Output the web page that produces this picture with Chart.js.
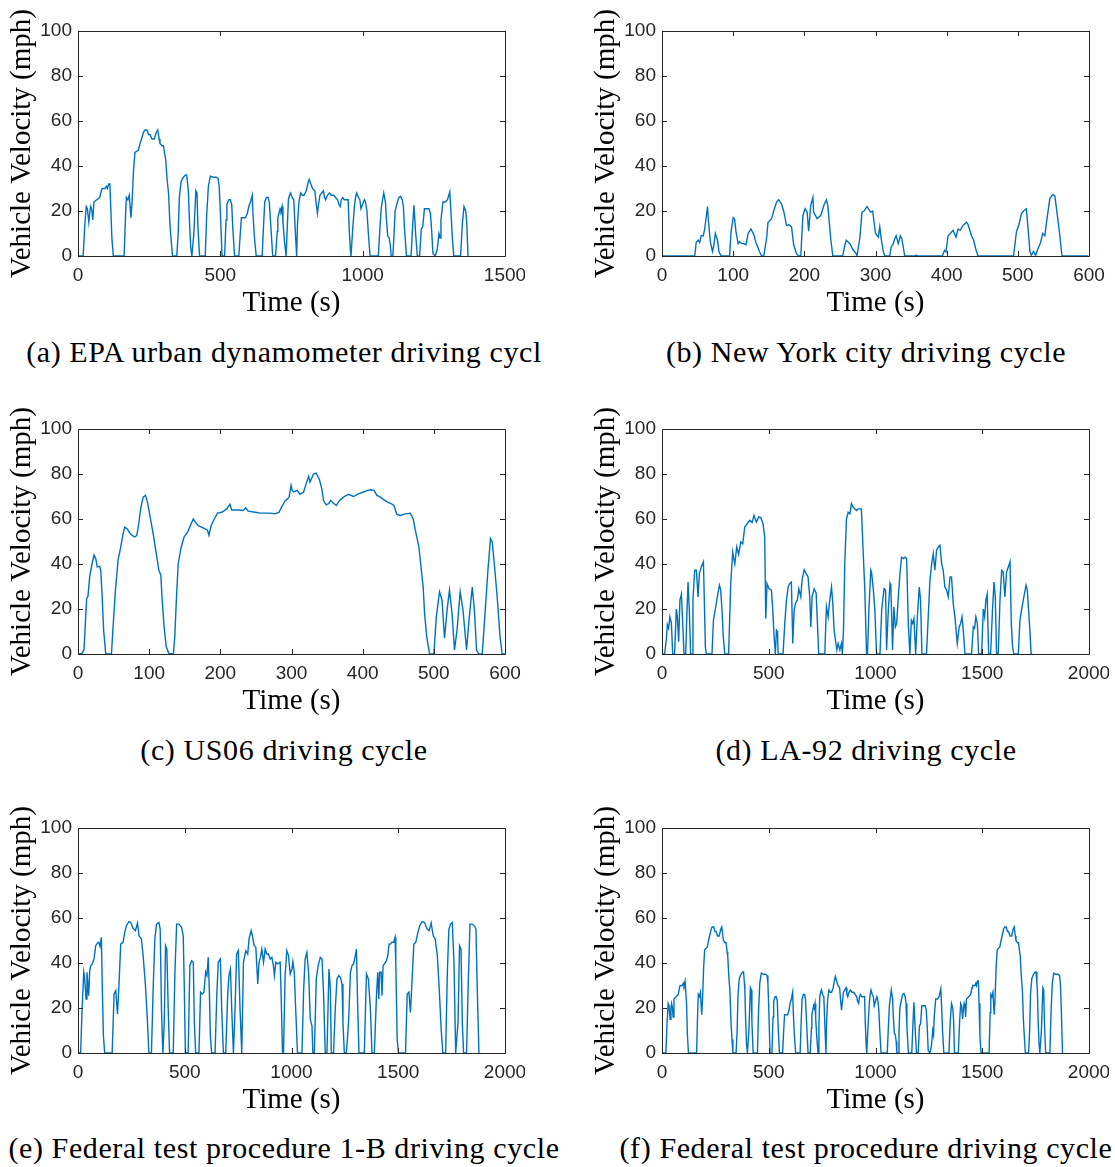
<!DOCTYPE html>
<html>
<head>
<meta charset="utf-8">
<script src="https://cdn.jsdelivr.net/npm/chart.js@4.4.1/dist/chart.umd.min.js"></script>
<style>
  body { margin: 0; background: #fff; width: 1115px; height: 1167px; position: relative; overflow: hidden; }
  canvas { position: absolute; }
  .cap { position: absolute; font-family: "Liberation Serif", serif; font-size: 30px; letter-spacing: 0.6px; color: #000; text-align: center; line-height: 34px; white-space: nowrap; }
</style>
</head>
<body>
<script>
// --- DATOS: [tiempo (s), velocidad (mph)] ---
const uddsPts = [[0,0],[18,0],[24,14],[29,22],[33,21],[38,15],[42,20],[45,22],[49,20],[52,16],[56,24],[66,25],[76,26],[82,29],[85,30],[95,30],[100,31],[103,30],[108,32],[112,32],[115,22],[119,8],[124,0],[162,0],[167,18],[170,26],[175,25],[180,27],[183,22],[186,17],[190,24],[195,38],[200,46],[212,47],[218,50],[223,52],[230,55],[235,56],[242,56],[248,54],[253,54],[260,52],[268,52],[275,55],[280,56],[285,52],[288,50],[295,49],[300,49],[305,45],[308,43],[313,34],[318,28],[323,14],[328,6],[332,0],[347,0],[352,10],[356,26],[362,33],[370,35],[378,36],[382,36],[386,31],[388,28],[392,14],[396,4],[400,0],[407,10],[414,29],[418,28],[421,14],[427,0],[447,0],[452,18],[458,31],[465,35.5],[475,35],[485,35],[492,34.5],[496,31],[500,20],[506,0],[515,0],[520,16],[523,23],[530,25],[535,25],[540,23],[544,12],[550,0],[565,0],[570,10],[574,17],[580,17],[588,17],[595,19],[600,22],[606,24],[612,27],[615,18],[620,8],[626,0],[647,0],[652,14],[656,24],[662,26],[668,26],[672,24],[677,14],[684,0],[694,0],[700,11],[702,17],[706,19],[710,21],[713,20],[717,22],[720,15],[725,7],[731,0],[735,12],[739,25],[743,27],[747,28],[752,26],[758,25],[763,12],[768,0],[771,14],[776,24],[782,28],[788,27],[794,27],[802,29],[807,32],[812,34],[818,32],[824,30],[832,29],[836,24],[841,19],[845,23],[850,27],[856,28],[862,29],[866,26],[870,25],[876,27],[883,28],[890,27],[898,27],[905,26],[912,25],[916,23],[921,22],[925,25],[930,26],[935,25],[941,25],[949,25],[952,14],[956,4],[959,0],[965,12],[971,22],[975,26],[979,28],[985,26],[990,25],[994,21],[1000,23],[1006,25],[1010,24],[1015,20],[1020,10],[1026,0],[1055,0],[1060,11],[1065,21],[1070,25],[1074,28],[1080,24],[1083,17],[1088,9],[1093,8],[1097,5],[1100,0],[1106,0],[1110,9],[1114,20],[1120,23],[1127,26],[1133,26.5],[1139,25],[1143,22],[1147,12],[1154,0],[1170,0],[1175,12],[1180,22.5],[1183,17],[1186,10],[1192,0],[1200,0],[1206,12],[1211,13],[1217,21],[1225,21],[1233,21],[1238,19],[1242,12],[1247,1],[1255,0],[1262,3],[1268,10],[1272,8],[1275,16],[1282,24],[1290,24],[1298,25],[1306,28.5],[1310,20],[1314,10],[1320,0],[1344,0],[1350,14],[1356,22],[1362,20],[1366,14],[1370,0]];

const nyccPts = [[0,0],[46,0],[48,6],[51,7],[53,6],[55,9],[58,9],[60,12],[64,22],[65,16.6],[68,6],[71,2],[73,5],[75,10],[78,7],[80,2],[83,0],[95,0],[97,10.7],[100,17],[102,16.4],[104,10.7],[107,5.5],[109,6.3],[112,5.5],[115,5.5],[118,5],[121,10],[125,12],[129,9.5],[132,6],[137,2],[140,0],[143,0],[147,8],[149,15],[154,16.6],[157,20],[161,24],[164,25],[168,23],[171,20],[175,13.6],[178,13.9],[182,13],[185,5],[189,1],[192,0],[195,0],[198,18],[201,21],[204,19.5],[206,11],[209,22.5],[212,26],[213,19.5],[218,16.6],[223,18],[228,23],[231,25],[233,22.5],[237,8],[240,0],[254,0],[257,5],[259,7],[264,5.5],[268,3],[273,1],[274,0],[278,8],[281,19.5],[284,20],[288,22],[293,19.5],[296,20],[298,15],[300,10],[304,8.4],[306,13],[308,7.7],[311,2],[313,0],[320,0],[322,4],[325,5.5],[327,7.7],[329,9],[332,5.5],[335,9],[337,7.7],[339,4],[341,0],[356,0],[357,0.4],[358,0],[394,0],[397,2.5],[399,1.8],[402,9],[405,10],[409,11.4],[413,8.4],[416,12],[419,11.4],[423,13.6],[428,15],[430,14],[432,12],[435,9],[438,7],[441,3],[444,0],[494,0],[498,10.7],[502,14.4],[505,18.8],[508,20],[512,21],[514,13.6],[517,2],[519,0.3],[522,2],[525,0.3],[528,3],[532,6],[535,10],[538,9],[541,16.6],[545,25.5],[549,27.3],[552,26.7],[555,19.5],[559,9],[562,0],[599,0]];

const us06Pts = [[0,0],[5.6,0.3],[8.4,1.8],[10.8,16.5],[12.2,24.7],[14,25.7],[16.4,34.3],[19.7,40],[22.5,44],[25,42.4],[27,38.7],[30.5,39],[32,37],[34,25.4],[36,10.6],[39,0],[47,0],[49,10.6],[52.6,28.4],[56.3,41.7],[59.6,46.8],[63.4,53.5],[65.7,56.4],[69,55.7],[72.7,53.8],[76,52.7],[79.8,52],[82.6,52.7],[85.4,58],[88,64.5],[91.5,69.7],[94.8,70.5],[97.6,67.5],[101,61.6],[105.6,53.5],[110,44.6],[113.6,37.2],[116.4,35],[118,25.4],[121,12],[124,3.2],[127.6,0.3],[134,0],[136,7.7],[138.4,25.4],[140.8,40],[144.5,46.8],[149,52],[154,54.2],[157,56.4],[162,60],[165,58.6],[169,57],[173.6,56.4],[178,55.7],[182,55],[184,52.7],[187,57],[191.5,60],[196,62.6],[202,63],[209,64.5],[213.5,66.5],[216,64],[225,64],[232,63.8],[235.6,65],[239,63.5],[249,63],[256,62.6],[263,62.6],[270,62.6],[277,62.3],[282.5,63],[286,65.3],[291,68],[296.6,69.7],[299.4,75],[301,72.7],[303,72],[308,72.7],[312,71],[317,72],[320.5,75.6],[324,79],[326,76.4],[331,80],[334.6,80.4],[339,77.8],[342.6,73.4],[345,68.2],[348.7,66.3],[352,66.8],[355,68.2],[359,67],[363,66],[367,68],[373,69.7],[380,71],[387,70],[394,71.2],[401,72],[407,72.7],[411.6,73],[416,72.7],[420,70.5],[425,69.7],[430,68.5],[435,67.5],[440,66.8],[444,66],[448,62],[453,61.6],[460,62.3],[467,62.6],[471,60],[475,53.5],[479,47.6],[482,38.7],[485,29.8],[487,18],[490,7.7],[494,0],[500,0],[503.5,16.5],[508,27.6],[511.5,24],[515,7],[518.6,19.5],[522,28.4],[525.6,18],[529,1.8],[532.6,10.6],[537,27.6],[541,19.5],[546,1.8],[549,13.6],[554,29.8],[557,19.5],[560,1.8],[563,0],[568,0],[571,13.6],[576,37.2],[579.6,51.3],[582,49.8],[585,40],[589,25.4],[593,7.7],[596,0],[600,0]];

const la92Pts = [[0,0],[12,0],[20,6],[25,13],[31,11.4],[37,16.5],[44,13.6],[50,0],[59,0],[67,20],[72,16.5],[78,5.5],[84,24],[91,26.6],[97,13.6],[103,0],[111,0],[116,16.5],[122,32],[128,19.5],[134,0],[141,0],[145,24],[153,37.2],[161,37.2],[169,25.4],[175,35.7],[184,38.7],[194,41],[200,16.5],[203,3.2],[208,0],[234,0],[241,15],[250,20],[259,25.4],[269,30.6],[275,28.4],[281,19.5],[287,7.7],[294,0],[312,0],[322,31.3],[331,45.3],[341,40],[350,47.6],[359,44.3],[369,49.8],[378,49],[387.5,56.4],[400,58],[411,59.4],[422,58.5],[431,61.6],[442,58.6],[453,60.9],[462.5,60.6],[473,58],[481,52],[486,15.8],[492,31.3],[501.6,29],[512.5,28.4],[519,19.5],[525,7.7],[531,0],[536,10.6],[541,10],[544,0],[567,0],[575,13.6],[583,24],[591,29.8],[598,31.3],[606,32],[612.5,4.7],[619,19.5],[625,22.5],[634,24],[641,29],[650,25.4],[656,32.8],[666,37.5],[675,35.7],[684,34.3],[692,25.4],[697,12],[703,25.4],[712.5,29],[722,27],[728,13.6],[734,0],[762.5,0],[770,21],[778,16.5],[784,22.5],[794,29.8],[800,22.5],[806,10.6],[812.5,6],[819,1.8],[825,4.7],[833,1.8],[840.6,4.7],[845,0],[850,10.6],[856,40],[864,60],[872,63],[880,62.3],[887.5,66.8],[895,65.3],[903,64.5],[911,63.8],[919,64.5],[927,64.5],[934,64.5],[940.6,49],[950,28.4],[958,0],[962.5,0],[969,19.5],[978,37.2],[982,36],[990,28.4],[997,19.5],[1005,0],[1021,0],[1029,19.5],[1040,29],[1047,28.4],[1052,1.8],[1060,19.5],[1068,31.3],[1072,29.8],[1080,1.8],[1086,21],[1093,12],[1099,13.6],[1107,25.4],[1114.5,35.7],[1122,43],[1130,42.4],[1138,43],[1146,42.4],[1153.5,13.6],[1161,0],[1168,15],[1174,13.6],[1180,15.8],[1188,0],[1196,16.5],[1205,29.8],[1211,24],[1217.5,0],[1239,0],[1247,16.5],[1255,32.8],[1263,40],[1270.6,44.6],[1278,37.2],[1286,46],[1294,47.6],[1302,48.3],[1310,40],[1317,37.2],[1325,29.8],[1333,28.4],[1341,25.4],[1349,34.3],[1356,34.3],[1364,22.5],[1372,16.5],[1383,4.7],[1392,12],[1399,13.6],[1405,16.5],[1411,10.6],[1419,0],[1450,0],[1458,12],[1464,11.4],[1470,16.5],[1477,13.6],[1483,0],[1497,0],[1505,20],[1511,16.5],[1517,24],[1523,26.6],[1530,0],[1539,0],[1548,19.5],[1555,32],[1561,25.4],[1567,0],[1575,0],[1583,24],[1591,37.2],[1598,36.5],[1606,25.4],[1614,36.5],[1622,38.7],[1630,41],[1636,13.6],[1642,3.2],[1648,0],[1669,0],[1676.5,15],[1684,19.5],[1695,25.4],[1705,30.6],[1711,28.4],[1717,19.5],[1723,10.6],[1729,0],[1735,0]];

const ftp1bPts = [[0,0],[12.5,0],[19,19.5],[27,35.9],[31,33.6],[37.6,24],[42,35.9],[50,25.5],[55,36.6],[59.5,38.8],[67,39.6],[75,41.8],[83,47.7],[91,48.9],[97,49.2],[103,47.4],[109.5,51.4],[114,28.4],[119,7.7],[125,0],[160,0],[169,26.2],[177,27.7],[185,17.3],[192.5,31.4],[200,48.4],[211,49.2],[219,53.6],[227,56.6],[238,58.4],[247,58],[258,55.4],[269,54.4],[278.6,57.8],[286,52],[297,50.7],[305,43.3],[316,30],[325.5,13.6],[332,0],[344,0],[352,28.4],[360,50.7],[368,57.3],[379,58],[385,55],[391,19.5],[397.5,0],[404,13.6],[410,47.7],[416,46.2],[422.5,19.5],[429,0],[446,0],[454,35.9],[462,57.3],[472.6,57.3],[485,55.9],[493,52],[498,28.4],[503,0],[516,0],[524,38.8],[532,41],[540,40.3],[545,13.6],[551,0],[566.5,0],[574,27],[582,26.2],[590,27],[598,35.9],[604,34.4],[610,42.5],[615,28.4],[620,7.7],[626,0],[642,0],[650,25.5],[657,40.3],[667,41.8],[673,19.5],[681,0],[692,0],[701,25.5],[707,34.4],[714,37.3],[720,19.5],[728,0],[735.5,19.5],[743,44],[751,45.5],[759,19.5],[767,0],[775,40.3],[786,45.5],[795,44],[801,50.7],[811,54.4],[817,52],[825,47.7],[833,47],[839,35.9],[842,30.7],[848,40.3],[854.5,42.5],[861,46.2],[869,40.3],[876.5,46.2],[884,44],[892,44],[900,41.8],[908,42.5],[915,38.8],[920,34.4],[926.5,40.3],[936,39.6],[947,40.3],[951.5,25.5],[958,0],[962.5,0],[970,34.4],[978,45.5],[986,43.3],[994,35.1],[1002,37.3],[1006.5,40.6],[1013,35.9],[1019,21],[1028,0],[1049,0],[1057,28.4],[1064,41.8],[1072,44.7],[1080,35.9],[1088,15],[1096,12],[1100,0],[1107,0],[1116,32.9],[1125,38.8],[1135,42.5],[1143,41.8],[1150.5,25.5],[1158,0],[1166,0],[1175.5,37.3],[1182,28.4],[1186.5,0],[1197,0],[1205,19.5],[1213,32.9],[1221,34.4],[1229,33.6],[1236.6,30.7],[1241,13.6],[1247.5,0],[1257,0.3],[1263,7.7],[1268,15],[1276,35.9],[1283.5,38.8],[1291,39.6],[1299,43.3],[1304,46.2],[1310,21],[1316,0],[1341,0],[1351,35.1],[1360,32.9],[1369.6,19.5],[1377,0],[1388,0],[1398,25.5],[1404,35.9],[1409,24],[1413,35.9],[1420,35.9],[1424,25.5],[1429,38.8],[1435,39.6],[1445,41],[1451,43.3],[1457,48.4],[1463.5,48.4],[1471,49.2],[1479,49.2],[1485,51.4],[1488.5,40.3],[1495,6.2],[1501,0],[1534,0],[1542,26.2],[1550,27],[1557,18],[1565,32.9],[1573,48.4],[1582,49.2],[1592,53.6],[1601,56.6],[1612,58.4],[1623,58],[1636,55],[1645,54.4],[1654,57.8],[1664,52],[1673,50.7],[1683,43.3],[1692,28.4],[1701,10.7],[1709,0],[1722,0],[1730,35.9],[1737,55],[1745,57.3],[1753,58],[1761,40.3],[1769,0],[1780,13.6],[1787,47.7],[1794,46.2],[1800,13.6],[1806,0],[1820,0],[1828,31.4],[1836,57.3],[1847,57.3],[1858,56.3],[1864,55],[1870,28.4],[1878,0]];

const ftpTailPts = [[1388,0],[1394,14],[1399,22],[1403,21],[1408,15],[1412,20],[1415,22],[1419,20],[1422,16],[1426,24],[1436,25],[1446,26],[1452,29],[1455,30],[1465,30],[1470,31],[1473,30],[1478,32],[1482,32],[1485,22],[1489,8],[1494,0],[1532,0],[1537,18],[1540,26],[1545,25],[1550,27],[1553,22],[1556,17],[1560,24],[1565,38],[1570,46],[1582,47],[1588,50],[1593,52],[1600,55],[1605,56],[1612,56],[1618,54],[1623,54],[1630,52],[1638,52],[1645,55],[1650,56],[1655,52],[1658,50],[1665,49],[1670,49],[1675,45],[1678,43],[1683,34],[1688,28],[1693,14],[1698,6],[1702,0],[1717,0],[1722,10],[1726,26],[1732,33],[1740,35],[1748,36],[1752,36],[1756,31],[1758,28],[1762,14],[1766,4],[1770,0],[1777,10],[1784,29],[1788,28],[1791,14],[1797,0],[1817,0],[1822,18],[1828,31],[1835,35.5],[1845,35],[1855,35],[1862,34.5],[1866,31],[1870,20],[1876,0]];

// (f) = ciclo urbano + repetición de la fase fría, tal como aparece en la figura
const ftpPts = uddsPts.concat(ftpTailPts);

const xMaximos = [1500, 600, 600, 2000, 2000, 2000];
const xPasos = [500, 100, 100, 500, 500, 500];
const yTicks = [0, 20, 40, 60, 80, 100];
const titulos = [
  '(a) EPA urban dynamometer driving cycl',
  '(b) New York city driving cycle',
  '(c) US06 driving cycle',
  '(d) LA-92 driving cycle',
  '(e) Federal test procedure 1-B driving cycle',
  '(f) Federal test procedure driving cycle'
];
const series = [uddsPts, nyccPts, us06Pts, la92Pts, ftp1bPts, ftpPts];

// --- LAYOUT ---
const colLeft = [0, 584];
const rowTop = [1, 399, 798];
const capCenterY = [352, 750, 1148];
const capBox = [[0, 568], [617, 498]];
const AZUL = '#0072BD';
const GRIS = '#262626';

// Marco tipo MATLAB con ticks hacia dentro
const marcoPlugin = {
  id: 'marco',
  afterDatasetsDraw(chart) {
    const { ctx, chartArea: a, scales: { x, y } } = chart;
    const L = 5;
    ctx.save();
    ctx.strokeStyle = GRIS;
    ctx.lineWidth = 1;
    ctx.beginPath();
    ctx.rect(Math.round(a.left) + 0.5, Math.round(a.top) + 0.5, Math.round(a.width), Math.round(a.height));
    x.ticks.forEach(t => {
      const px = Math.round(x.getPixelForValue(t.value)) + 0.5;
      ctx.moveTo(px, a.bottom); ctx.lineTo(px, a.bottom - L);
      ctx.moveTo(px, a.top); ctx.lineTo(px, a.top + L);
    });
    y.ticks.forEach(t => {
      const py = Math.round(y.getPixelForValue(t.value)) + 0.5;
      ctx.moveTo(a.left, py); ctx.lineTo(a.left + L, py);
      ctx.moveTo(a.right, py); ctx.lineTo(a.right - L, py);
    });
    ctx.stroke();
    ctx.restore();
  }
};

function crearGrafico(i) {
  const col = i % 2, fila = Math.floor(i / 2);
  const cv = document.createElement('canvas');
  cv.width = 525; cv.height = 325;
  cv.style.left = colLeft[col] + 'px';
  cv.style.top = rowTop[fila] + 'px';
  document.body.appendChild(cv);

  new Chart(cv.getContext('2d'), {
    type: 'line',
    data: {
      datasets: [{
        data: series[i].map(([t, v]) => ({ x: t, y: v })),
        borderColor: AZUL,
        borderWidth: 1.4,
        pointRadius: 0,
        tension: 0,
        fill: false
      }]
    },
    options: {
      responsive: false,
      animation: false,
      devicePixelRatio: 1,
      layout: { padding: { top: 30, right: 20, left: 0, bottom: 0 } },
      plugins: { legend: { display: false }, tooltip: { enabled: false } },
      scales: {
        x: {
          type: 'linear', min: 0, max: xMaximos[i],
          afterFit: s => { s.height = 70; s.paddingLeft = 0; s.paddingRight = 0; },
          grid: { display: false, drawTicks: false },
          border: { display: false },
          ticks: {
            stepSize: xPasos[i], padding: 8, color: GRIS, maxRotation: 0,
            font: { family: 'Liberation Sans', size: 19 },
            callback: v => String(v)
          },
          title: { display: true, text: 'Time (s)', color: '#000', padding: { top: 0, bottom: 5 }, font: { family: 'Liberation Serif', size: 29 } }
        },
        y: {
          type: 'linear', min: 0, max: 100,
          afterFit: s => { s.width = 78; s.paddingTop = 0; s.paddingBottom = 0; },
          afterBuildTicks: s => { s.ticks = yTicks.map(v => ({ value: v })); },
          grid: { display: false, drawTicks: false },
          border: { display: false },
          ticks: { padding: 6, color: GRIS, font: { family: 'Liberation Sans', size: 19 }, callback: v => String(v) },
          title: { display: true, text: 'Vehicle Velocity (mph)', color: '#000', padding: { top: 5, bottom: 0 }, font: { family: 'Liberation Serif', size: 29 } }
        }
      }
    },
    plugins: [marcoPlugin]
  });

  const cap = document.createElement('div');
  cap.className = 'cap';
  cap.style.left = capBox[col][0] + 'px';
  cap.style.width = capBox[col][1] + 'px';
  cap.style.top = (capCenterY[fila] - 17) + 'px';
  cap.textContent = titulos[i];
  document.body.appendChild(cap);
}

for (let i = 0; i < 6; i++) crearGrafico(i);
</script>
</body>
</html>
